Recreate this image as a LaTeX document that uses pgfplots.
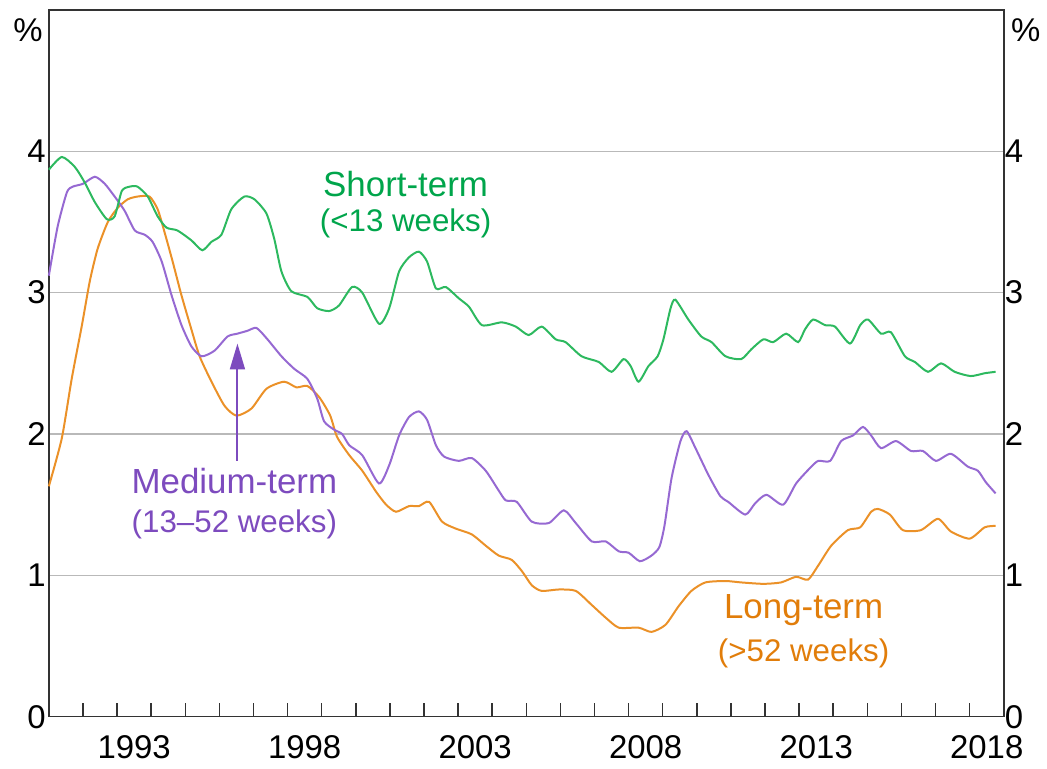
\documentclass[border=0pt]{standalone}
\usepackage{fontspec}
\setmainfont{Liberation Sans}
\usepackage{pgfplots}
\pgfplotsset{compat=1.18}
\usetikzlibrary{arrows.meta}
\definecolor{gline}{RGB}{45,185,95}
\definecolor{gtext}{RGB}{0,165,75}
\definecolor{pline}{RGB}{150,105,210}
\definecolor{ptext}{RGB}{125,75,190}
\definecolor{oline}{RGB}{235,145,40}
\definecolor{otext}{RGB}{225,125,10}
\pgfplotstableread{
x y
1991.00 3.87
1991.38 3.96
1991.76 3.89
1992.05 3.78
1992.35 3.64
1992.70 3.52
1992.93 3.54
1993.14 3.72
1993.37 3.75
1993.60 3.75
1993.90 3.68
1994.19 3.54
1994.45 3.46
1994.77 3.44
1995.18 3.37
1995.50 3.30
1995.77 3.36
1996.06 3.41
1996.35 3.59
1996.73 3.68
1997.03 3.66
1997.38 3.56
1997.61 3.38
1997.82 3.15
1998.11 3.01
1998.58 2.97
1998.87 2.89
1999.22 2.87
1999.51 2.91
1999.89 3.04
2000.19 3.00
2000.68 2.78
2000.98 2.89
2001.27 3.15
2001.56 3.25
2001.85 3.29
2002.09 3.22
2002.35 3.03
2002.64 3.04
2003.02 2.96
2003.32 2.90
2003.70 2.77
2004.28 2.79
2004.69 2.76
2005.07 2.70
2005.45 2.76
2005.86 2.67
2006.15 2.65
2006.62 2.55
2007.12 2.51
2007.50 2.44
2007.85 2.53
2008.06 2.48
2008.29 2.37
2008.58 2.48
2008.85 2.55
2009.02 2.67
2009.23 2.89
2009.37 2.95
2009.75 2.81
2010.13 2.69
2010.43 2.65
2010.84 2.55
2011.30 2.53
2011.60 2.60
2011.95 2.67
2012.24 2.65
2012.62 2.71
2012.97 2.65
2013.17 2.74
2013.41 2.81
2013.76 2.77
2014.05 2.76
2014.49 2.64
2014.79 2.77
2015.02 2.81
2015.40 2.71
2015.69 2.72
2016.10 2.55
2016.39 2.51
2016.78 2.44
2017.16 2.50
2017.56 2.44
2018.03 2.41
2018.44 2.43
2018.76 2.44
}\shortterm
\pgfplotstableread{
x y
1991.00 3.12
1991.26 3.47
1991.53 3.71
1991.70 3.75
1992.00 3.77
1992.35 3.82
1992.64 3.77
1992.93 3.68
1993.22 3.58
1993.52 3.44
1993.81 3.41
1994.04 3.36
1994.31 3.22
1994.60 2.98
1994.89 2.77
1995.18 2.62
1995.48 2.55
1995.86 2.59
1996.24 2.69
1996.53 2.71
1996.82 2.73
1997.09 2.75
1997.41 2.67
1997.82 2.55
1998.20 2.46
1998.58 2.39
1998.87 2.25
1999.07 2.09
1999.37 2.03
1999.60 2.00
1999.81 1.92
2000.19 1.85
2000.68 1.65
2000.98 1.78
2001.27 1.99
2001.56 2.12
2001.85 2.16
2002.09 2.10
2002.35 1.92
2002.59 1.84
2003.02 1.81
2003.40 1.83
2003.81 1.74
2004.19 1.60
2004.40 1.53
2004.72 1.52
2005.16 1.38
2005.66 1.37
2006.10 1.46
2006.45 1.37
2006.92 1.24
2007.33 1.24
2007.71 1.17
2008.00 1.16
2008.33 1.10
2008.67 1.14
2008.90 1.20
2009.05 1.35
2009.26 1.69
2009.52 1.95
2009.70 2.02
2009.96 1.90
2010.34 1.71
2010.69 1.56
2010.92 1.52
2011.42 1.43
2011.71 1.51
2012.04 1.57
2012.53 1.50
2012.91 1.65
2013.32 1.76
2013.56 1.81
2013.91 1.81
2014.23 1.95
2014.58 1.99
2014.87 2.05
2015.11 1.99
2015.40 1.90
2015.84 1.95
2016.28 1.88
2016.63 1.88
2017.01 1.81
2017.45 1.86
2017.94 1.77
2018.24 1.74
2018.47 1.66
2018.76 1.58
}\mediumterm
\pgfplotstableread{
x y
1991.00 1.63
1991.38 1.97
1991.67 2.39
1991.97 2.77
1992.20 3.08
1992.43 3.31
1992.73 3.50
1993.02 3.60
1993.31 3.66
1993.60 3.68
1993.95 3.68
1994.19 3.59
1994.39 3.43
1994.63 3.22
1994.89 2.98
1995.18 2.74
1995.42 2.55
1995.77 2.37
1996.15 2.20
1996.50 2.13
1996.94 2.18
1997.38 2.32
1997.90 2.37
1998.26 2.33
1998.58 2.34
1998.93 2.26
1999.25 2.13
1999.45 1.98
1999.81 1.85
2000.19 1.74
2000.60 1.59
2000.89 1.50
2001.18 1.45
2001.56 1.49
2001.85 1.49
2002.15 1.52
2002.53 1.38
2002.94 1.33
2003.40 1.29
2003.81 1.21
2004.19 1.14
2004.57 1.11
2004.87 1.03
2005.16 0.93
2005.45 0.89
2005.95 0.90
2006.45 0.89
2006.92 0.79
2007.33 0.70
2007.71 0.63
2008.29 0.63
2008.67 0.60
2009.08 0.65
2009.46 0.78
2009.84 0.89
2010.25 0.95
2010.84 0.96
2011.30 0.95
2011.95 0.94
2012.47 0.95
2012.91 0.99
2013.26 0.97
2013.56 1.07
2013.94 1.21
2014.43 1.32
2014.79 1.34
2015.11 1.45
2015.31 1.47
2015.66 1.43
2016.04 1.32
2016.57 1.32
2017.07 1.40
2017.45 1.31
2018.00 1.26
2018.44 1.34
2018.76 1.35
}\longterm
\begin{document}
\begin{tikzpicture}
\begin{axis}[
  scale only axis, width=479pt, height=354.5pt,
  xmin=1991, xmax=2019, ymin=0, ymax=5,
  axis line style={draw=black!80, line width=0.75pt},
  xtick={1993.5,1998.5,2003.5,2008.5,2013.5,2018.5},
  xticklabels={1993,1998,2003,2008,2013,2018},
  minor xtick={1992,...,2018},
  xtick pos=bottom, ytick pos=left,
  major tick length=0pt, minor tick length=7pt, tick align=inside,
  minor tick style={draw=black!80, line width=0.75pt},
  ytick={0,1,2,3,4},
  ymajorgrids, major grid style={draw=gray!55, line width=0.6pt},
  tick label style={font=\fontsize{16.5}{18}\selectfont},
  /pgf/number format/assume math mode=true,
  xticklabel shift=6pt,
  yticklabel style={xshift=2pt},
  clip=false,
]
\addplot[oline, line width=1pt, smooth, tension=0.4] table {\longterm};
\addplot[pline, line width=1pt, smooth, tension=0.4] table {\mediumterm};
\addplot[gline, line width=1pt, smooth, tension=0.4] table {\shortterm};
\draw[ptext, line width=1pt, -{Triangle[length=13pt,width=7.5pt]}] (axis cs:1996.53,1.81) -- (axis cs:1996.53,2.64);
\node[gtext, font=\fontsize{17.5}{20}\selectfont] at (axis cs:2001.46,3.77) {Short-term};
\node[gtext, font=\fontsize{15.7}{18}\selectfont] at (axis cs:2001.46,3.49) {(<13 weeks)};
\node[ptext, font=\fontsize{17.5}{20}\selectfont] at (axis cs:1996.44,1.67) {Medium-term};
\node[ptext, font=\fontsize{15.7}{18}\selectfont] at (axis cs:1996.44,1.36) {(13–52 weeks)};
\node[otext, font=\fontsize{17.5}{20}\selectfont] at (axis cs:2013.13,0.755) {Long-term};
\node[otext, font=\fontsize{15.7}{18}\selectfont] at (axis cs:2013.13,0.45) {(>52 weeks)};
\coordinate (SW) at (rel axis cs:0,0);
\coordinate (NE) at (rel axis cs:1,1);
\coordinate (NW) at (rel axis cs:0,1);
\end{axis}
\begin{axis}[
  scale only axis, width=479pt, height=354.5pt,
  xmin=1991, xmax=2019, ymin=0, ymax=5,
  hide x axis, axis y line*=right,
  axis line style={draw=black!80, line width=0.75pt},
  ytick={0,1,2,3,4}, major tick length=0pt,
  tick label style={font=\fontsize{16.5}{18}\selectfont},
  /pgf/number format/assume math mode=true,
  yticklabel style={xshift=-3pt},
]
\end{axis}
\node[font=\fontsize{16.5}{18}\selectfont] at ([xshift=-10.5pt,yshift=-10pt]NW) {\%};
\node[font=\fontsize{16.5}{18}\selectfont] at ([xshift=11pt,yshift=-10pt]NE) {\%};
\path ([xshift=-24.5pt,yshift=-26pt]SW) rectangle ([xshift=20pt,yshift=5pt]NE);
\end{tikzpicture}
\end{document}
